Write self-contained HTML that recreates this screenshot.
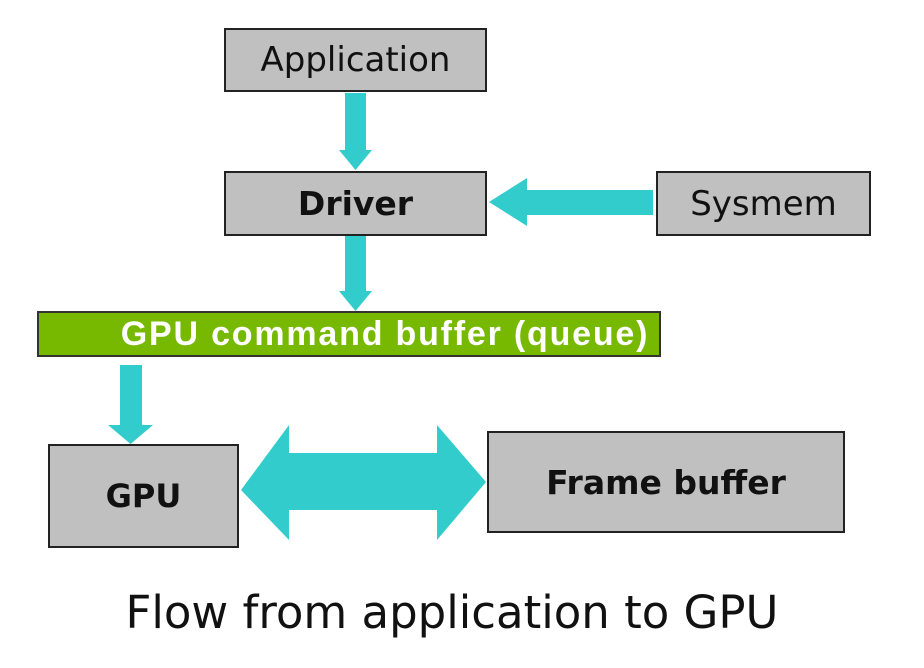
<!DOCTYPE html>
<html><head><style>
body{margin:0;width:924px;height:668px;background:#fff;overflow:hidden;position:relative;font-family:"DejaVu Sans","Liberation Sans",sans-serif}
.b{position:absolute;background:#c0c0c0;border:2px solid #222;box-sizing:border-box;display:flex;align-items:center;justify-content:center;color:#111}
</style></head><body>
<svg width="924" height="668" style="position:absolute;left:0;top:0">
<g fill="#33cccc">
<rect x="345" y="93" width="21" height="57"/><polygon points="339,150 372,150 355.5,170"/>
<rect x="345" y="235" width="21" height="56"/><polygon points="339,291 372,291 355.5,311"/>
<rect x="527" y="190" width="126" height="25"/><polygon points="527,178 527,226 489,202"/>
<rect x="120" y="365" width="22" height="60"/><polygon points="108,425 153,425 130.5,444"/>
<polygon points="241,490 289,425 289,453 437,453 437,425 486,482 437,540 437,510 289,510 289,540"/>
</g>
</svg>
<div class="b" style="left:224px;top:28px;width:263px;height:64px;font-size:34px">Application</div>
<div class="b" style="left:224px;top:171px;width:263px;height:65px;font-size:33px;font-weight:bold">Driver</div>
<div class="b" style="left:656px;top:171px;width:215px;height:65px;font-size:34px">Sysmem</div>
<div style="position:absolute;left:37px;top:311px;width:624px;height:46px;background:#76b900;border:2px solid #333;box-sizing:border-box;color:#fff;font-family:'Liberation Sans',sans-serif;font-weight:bold;font-size:34px;letter-spacing:1.8px;line-height:42px;text-align:center;padding-left:72px;white-space:nowrap">GPU command buffer (queue)</div>
<div class="b" style="left:48px;top:444px;width:191px;height:104px;font-size:32px;font-weight:bold">GPU</div>
<div class="b" style="left:487px;top:431px;width:358px;height:102px;font-size:33px;font-weight:bold">Frame buffer</div>
<div style="position:absolute;left:0;width:904px;top:586px;text-align:center;font-size:45px;color:#111;white-space:nowrap">Flow from application to GPU</div>
</body></html>
